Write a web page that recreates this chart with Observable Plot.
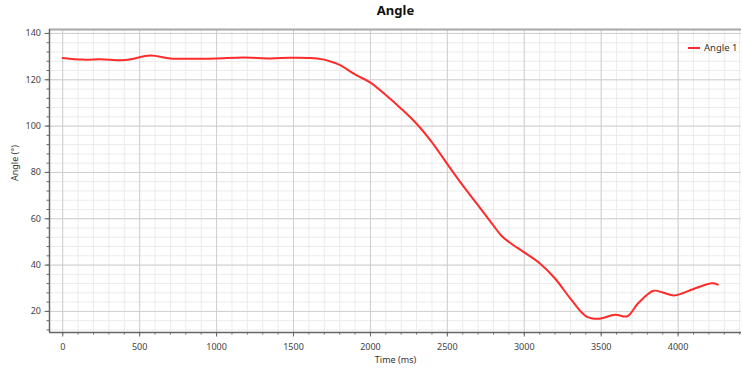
<!DOCTYPE html>
<html>
<head>
<meta charset="utf-8">
<script src="https://cdn.jsdelivr.net/npm/d3@7"></script>
<script src="https://cdn.jsdelivr.net/npm/@observablehq/plot@0.6"></script>
<style>
  html, body { margin: 0; padding: 0; background: #fff; }
  #chart svg { display: block; }
</style>
</head>
<body>
<div id="chart"></div>
<script>
const timeMs = [0,135,245,408,570,700,895,1000,1175,1350,1480,1610,1690,1740,1800,1900,2000,2100,2200,2300,2400,2500,2600,2700,2800,2850,2900,3000,3100,3200,3300,3400,3480,3590,3670,3740,3840,3900,3975,4100,4220,4258];
const angle1 = [129.4,128.7,128.9,128.5,130.5,129.2,129.1,129.2,129.6,129.2,129.5,129.4,128.8,127.9,126.4,122.3,118.8,113.4,107.5,101.0,93.0,83.6,74.4,65.8,57.0,52.8,50.0,45.5,40.8,34.2,25.5,18.0,16.8,18.6,17.9,23.5,28.9,28.2,26.9,29.7,32.2,31.6];
const xMajor = [0,500,1000,1500,2000,2500,3000,3500,4000];
const xMinor = d3.range(0, 4401, 100);
const yMajor = [20,40,60,80,100,120,140];
const yMinor = d3.range(12, 141, 4);
const seriesName = "Angle 1";
const titleText = "Angle";
const xLabel = "Time (ms)";
const yLabel = "Angle (°)";

const data = timeMs.map((t, i) => ({t, a: angle1[i]}));
const xDom = [-86, 4412];
const yDom = [10.9, 141.7];
const font = "'Noto Sans', 'Open Sans', sans-serif";
const red = "#ff2b2b";

const legend = (index, scales, values, dims) => {
  const g = d3.create("svg:g");
  const x0 = dims.width - 54, y0 = 48;
  g.append("line").attr("x1", x0).attr("x2", x0 + 12).attr("y1", y0).attr("y2", y0)
    .attr("stroke", red).attr("stroke-width", 2);
  g.append("text").attr("x", x0 + 16).attr("y", y0).attr("dy", "0.35em")
    .attr("text-anchor", "start")
    .attr("font-size", 9.5).attr("fill", "#333").attr("font-family", font).text(seriesName);
  return g.node();
};

const chart = Plot.plot({
  width: 742,
  height: 371,
  marginLeft: 49,
  marginRight: 1,
  marginTop: 29,
  marginBottom: 39,
  style: {fontFamily: font, fontSize: "9px", color: "#444", background: "#fff"},
  x: {domain: xDom, axis: null},
  y: {domain: yDom, axis: null},
  marks: [
    Plot.ruleX(xMinor, {stroke: "#ebebeb", strokeWidth: 1}),
    Plot.ruleY(yMinor, {stroke: "#ebebeb", strokeWidth: 1}),
    Plot.ruleX(xMajor, {stroke: "#cfcfcf", strokeWidth: 1}),
    Plot.ruleY(yMajor, {stroke: "#cfcfcf", strokeWidth: 1}),
    Plot.ruleY([yDom[1]], {stroke: "#a8a8a8", strokeWidth: 2}),
    Plot.axisX(xMinor, {tickSize: 2.5, tickFormat: () => "", stroke: "#666", label: null}),
    Plot.axisX(xMajor, {tickSize: 4.5, tickPadding: 7, tickFormat: d => String(d), stroke: "#666", fill: "#444", label: null}),
    Plot.axisY(yMinor, {tickSize: 2.5, tickFormat: () => "", stroke: "#666", label: null}),
    Plot.axisY(yMajor, {tickSize: 4.5, tickPadding: 4, tickFormat: d => String(d), stroke: "#666", fill: "#444", label: null}),
    Plot.ruleX([xDom[0]], {stroke: "#666", strokeWidth: 1.5}),
    Plot.ruleY([yDom[0]], {stroke: "#666", strokeWidth: 1.5}),
    Plot.line(data, {x: "t", y: "a", stroke: red, strokeWidth: 2, curve: "catmull-rom"}),
    Plot.text([titleText], {frameAnchor: "top", dy: -15, lineAnchor: "bottom", fontWeight: "bold", fontSize: 13, fill: "#111", text: d => d}),
    Plot.text([xLabel], {frameAnchor: "bottom", dy: 30, fontSize: 9, fill: "#333", text: d => d}),
    Plot.text([yLabel], {frameAnchor: "left", dx: -34, rotate: -90, fontSize: 9, fill: "#333", text: d => d}),
    legend
  ]
});
document.getElementById("chart").appendChild(chart);
</script>
</body>
</html>
